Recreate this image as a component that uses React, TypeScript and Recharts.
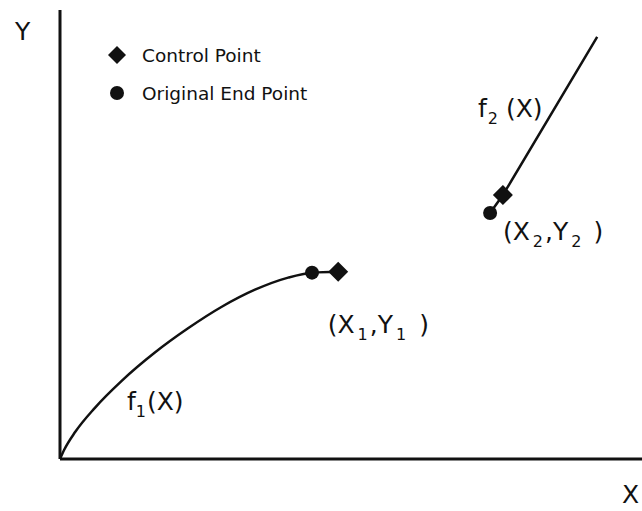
import React from 'react';
import { ComposedChart, Line, Scatter, XAxis, YAxis, Legend, Label } from 'recharts';

const FONT = '"DejaVu Sans", Verdana, sans-serif';
const INK = '#111111';

// f1(X): concave curve from the origin to its original end point, continued to the control point
const f1X = [0, 0.7, 2.6, 6, 10.6, 16.3, 22, 27.8, 33.5, 39.2, 43.3, 47.8];
const f1Y = [0, 2, 6, 11.4, 17.4, 23.7, 29.1, 33.9, 37.7, 40.4, 41.5, 41.7];

// f2(X): straight segment through its end point and control point
const f2X = [73.9, 76.1, 92.3];
const f2Y = [54.8, 58.8, 94];

// Control points and original end points
const controlX = [47.8, 76.1];
const controlY = [41.7, 58.8];
const endX = [43.3, 73.9];
const endY = [41.5, 54.8];

// Annotation labels: anchor (start, baseline) in data units, text split into normal / subscript runs
const annoX = [11.5, 71.8, 46.0, 76.1];
const annoY = [10.9, 76.2, 28.1, 48.8];
const annoParts: { t: string; sub?: boolean; dx?: number }[][] = [
  [{ t: 'f' }, { t: '1', sub: true, dx: 0 }, { t: '(X)', dx: 1 }],
  [{ t: 'f' }, { t: '2', sub: true, dx: 1 }, { t: '(X)', dx: 8 }],
  [{ t: '(X' }, { t: '1', sub: true, dx: 3 }, { t: ',Y', dx: 2 }, { t: '1', sub: true, dx: 3 }, { t: ')', dx: 13 }],
  [{ t: '(X' }, { t: '2', sub: true, dx: 3 }, { t: ',Y', dx: 2 }, { t: '2', sub: true, dx: 3 }, { t: ')', dx: 12 }],
];

const legendNames = ['Control Point', 'Original End Point'];

const zip = (xs: number[], ys: number[]) => xs.map((x, i) => ({ x, y: ys[i] }));
const f1Data = zip(f1X, f1Y);
const f2Data = zip(f2X, f2Y);
const controlData = zip(controlX, controlY);
const endData = zip(endX, endY);
const annoData = annoX.map((x, i) => ({ x, y: annoY[i], parts: annoParts[i] }));

const Diamond = (props: any) => {
  const { cx, cy } = props;
  const r = 10;
  return (
    <polygon
      points={`${cx},${cy - r} ${cx + r},${cy} ${cx},${cy + r} ${cx - r},${cy}`}
      fill={INK}
    />
  );
};

const Dot = (props: any) => <circle cx={props.cx} cy={props.cy} r={7} fill={INK} />;

const SUB_SHIFT = 7;

const AnnoText = (props: any) => {
  const { cx, cy, payload } = props;
  const parts = payload.parts as { t: string; sub?: boolean; dx?: number }[];
  let level = 0;
  return (
    <text x={cx} y={cy} fontFamily={FONT} fontSize={25} fill={INK}>
      {parts.map((p, i) => {
        const target = p.sub ? SUB_SHIFT : 0;
        const dy = target - level;
        level = target;
        return (
          <tspan key={i} dx={p.dx ?? 0} dy={dy} fontSize={p.sub ? 16 : 25}>
            {p.t}
          </tspan>
        );
      })}
    </text>
  );
};

const LegendContent = (props: any) => {
  const payload = (props.payload || []).filter((e: any) => legendNames.includes(e.value));
  return (
    <div style={{ fontFamily: FONT, fontSize: 18.5, color: INK }}>
      {payload.map((e: any) => (
        <div key={e.value} style={{ display: 'flex', alignItems: 'center', height: 38 }}>
          <svg width={26} height={24} style={{ marginRight: 11 }}>
            {e.type === 'diamond' ? (
              <polygon points="12,3 21,12 12,21 3,12" fill={INK} />
            ) : (
              <circle cx={12} cy={12} r={7} fill={INK} />
            )}
          </svg>
          <span>{e.value}</span>
        </div>
      ))}
    </div>
  );
};

export default function App() {
  return (
    <div style={{ position: 'absolute', left: 0, top: 0, background: '#fff' }}>
      <ComposedChart
        width={642}
        height={511}
        margin={{ top: 10, right: 0, bottom: 51, left: 59 }}
      >
        <XAxis
          type="number"
          dataKey="x"
          domain={[0, 100]}
          allowDataOverflow
          height={1}
          tick={false}
          tickLine={false}
          axisLine={{ stroke: INK, strokeWidth: 3 }}
        >
          <Label
            content={(p: any) => {
              const vb = p.viewBox;
              return (
                <text x={vb.x + vb.width - 20} y={vb.y + 44} fontFamily={FONT} fontSize={25} fill={INK}>
                  X
                </text>
              );
            }}
          />
        </XAxis>
        <YAxis
          type="number"
          dataKey="y"
          domain={[0, 100]}
          allowDataOverflow
          width={1}
          tick={false}
          tickLine={false}
          axisLine={{ stroke: INK, strokeWidth: 3 }}
        >
          <Label
            content={(p: any) => {
              const vb = p.viewBox;
              return (
                <text x={vb.x - 44} y={vb.y + 30} fontFamily={FONT} fontSize={25} fill={INK}>
                  Y
                </text>
              );
            }}
          />
        </YAxis>
        <Legend
          layout="vertical"
          align="center"
          verticalAlign="middle"
          wrapperStyle={{ left: 105, top: 36, width: 260 }}
          content={<LegendContent />}
        />
        <Line
          data={f1Data}
          dataKey="y"
          type="monotone"
          stroke={INK}
          strokeWidth={2.5}
          dot={false}
          legendType="none"
          isAnimationActive={false}
        />
        <Line
          data={f2Data}
          dataKey="y"
          type="linear"
          stroke={INK}
          strokeWidth={2.5}
          dot={false}
          legendType="none"
          isAnimationActive={false}
        />
        <Scatter
          name="Control Point"
          data={controlData}
          dataKey="y"
          legendType="diamond"
          shape={<Diamond />}
          isAnimationActive={false}
        />
        <Scatter
          name="Original End Point"
          data={endData}
          dataKey="y"
          legendType="circle"
          shape={<Dot />}
          isAnimationActive={false}
        />
        <Scatter
          name="labels"
          data={annoData}
          dataKey="y"
          legendType="none"
          shape={<AnnoText />}
          isAnimationActive={false}
        />
      </ComposedChart>
    </div>
  );
}
